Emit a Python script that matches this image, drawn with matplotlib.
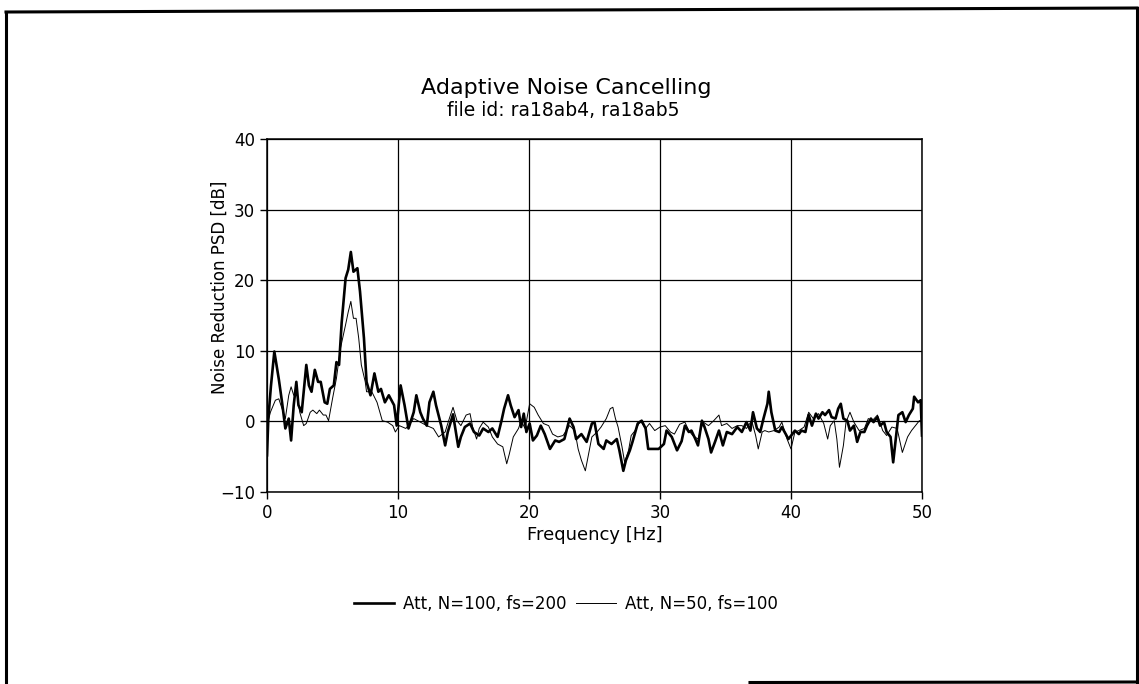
import matplotlib
matplotlib.use("Agg")
import matplotlib.pyplot as plt
from matplotlib.lines import Line2D

# Att, N=100, fs=200 (thick line)
freq_n100 = [0.0, 0.1, 0.3, 0.56, 0.9, 1.15, 1.4, 1.66, 1.84, 2.04, 2.24, 2.4, 2.65,
             3.0, 3.2, 3.4, 3.65, 3.9, 4.1, 4.4, 4.6, 4.8, 5.1, 5.3, 5.5, 5.7, 6.0,
             6.2, 6.4, 6.6, 6.9, 7.1, 7.4, 7.6, 7.9, 8.2, 8.5, 8.7, 9.0, 9.3, 9.7,
             9.9, 10.2, 10.5, 10.8, 11.2, 11.4, 11.7, 11.9, 12.2, 12.4, 12.7, 12.9,
             13.3, 13.6, 13.8, 14.2, 14.6, 14.8, 15.1, 15.5, 15.8, 16.2, 16.5, 16.9,
             17.2, 17.6, 17.9, 18.1, 18.4, 18.6, 18.9, 19.2, 19.4, 19.6, 19.8, 20.05,
             20.3, 20.6, 20.9, 21.2, 21.6, 22.0, 22.3, 22.7, 23.1, 23.4, 23.6, 24.0,
             24.4, 24.8, 25.0, 25.3, 25.7, 25.9, 26.3, 26.7, 26.9, 27.2, 27.4, 27.7,
             27.9, 28.3, 28.6, 28.9, 29.1, 29.5, 29.9, 30.3, 30.5, 30.9, 31.3, 31.65,
             31.9, 32.2, 32.4, 32.7, 32.9, 33.2, 33.4, 33.7, 33.9, 34.2, 34.5, 34.8,
             35.1, 35.5, 35.9, 36.25, 36.6, 36.9, 37.1, 37.4, 37.65, 37.9, 38.2, 38.3,
             38.5, 38.8, 39.1, 39.3, 39.6, 39.8, 40.1, 40.3, 40.6, 40.8, 41.1, 41.35,
             41.6, 41.9, 42.1, 42.4, 42.6, 42.9, 43.1, 43.4, 43.6, 43.8, 44.0, 44.3,
             44.5, 44.8, 45.05, 45.3, 45.6, 45.8, 46.1, 46.3, 46.6, 46.8, 47.1, 47.3,
             47.6, 47.8, 48.0, 48.2, 48.5, 48.75, 49.0, 49.3, 49.4, 49.7, 49.9, 50.0]
psd_n100 = [-4.8, 0.4, 5.0, 9.9, 6.0, 2.7, -1.0, 0.4, -2.7, 2.3, 5.6, 2.3, 1.3,
            8.0, 5.1, 4.2, 7.3, 5.6, 5.6, 2.7, 2.5, 4.6, 5.1, 8.4, 8.0, 14.0, 20.3,
            21.5, 24.0, 21.2, 21.7, 18.4, 11.8, 5.6, 3.7, 6.8, 4.2, 4.6, 2.7, 3.7, 2.3,
            -0.6, 5.1, 2.3, -1.0, 1.3, 3.7, 1.3, 0.4, -0.6, 2.7, 4.2, 2.3,
            -0.6, -3.4, -1.5, 1.0, -3.6, -2.2, -0.8, -0.3, -1.5, -2.0, -1.0, -1.5,
            -1.0, -2.2, 0.1, 1.8, 3.7, 2.3, 0.6, 1.6, -0.8, 1.1, -1.5, -0.3,
            -2.7, -2.0, -0.6, -1.8, -3.9, -2.7, -2.9, -2.5, 0.4, -0.8, -2.5, -1.8,
            -2.9, -0.3, -0.1, -3.2, -3.9, -2.7, -3.2, -2.5, -4.1, -7.0, -5.5, -4.1,
            -2.9, -0.3, 0.1, -1.0, -3.9, -3.9, -3.9, -3.2, -1.3, -2.2, -4.1, -2.8,
            -0.6, -1.5, -1.3, -2.5, -3.4, 0.1, -0.8, -2.5, -4.4, -2.9, -1.3, -3.4,
            -1.5, -1.8, -0.8, -1.5, -0.1, -1.3, 1.3, -1.0, -1.5, 0.4, 2.5, 4.2,
            1.3, -1.3, -1.5, -0.8, -1.8, -2.5, -1.8, -1.3, -1.8, -1.3, -1.5, 0.9,
            -0.6, 1.1, 0.4, 1.3, 0.9, 1.6, 0.6, 0.4, 1.8, 2.5, 0.4, 0.1,
            -1.3, -0.6, -2.9, -1.5, -1.5, -0.6, 0.4, -0.1, 0.6, -0.6, -0.1, -1.5,
            -2.2, -5.8, -2.5, 0.9, 1.3, -0.1, 0.9, 1.8, 3.5, 2.7, 3.0, -2.0]

# Att, N=50, fs=100 (thin line)
freq_n50 = [0.0, 0.26, 0.64, 0.9, 1.15, 1.4, 1.66, 1.84, 2.04, 2.3, 2.5, 2.8, 3.0,
            3.3, 3.5, 3.8, 4.0, 4.3, 4.5, 4.7, 5.0, 5.3, 5.6, 6.0, 6.2, 6.4, 6.6,
            6.8, 7.0, 7.2, 7.5, 7.6, 8.0, 8.4, 8.8, 9.2, 9.6, 9.8, 10.1, 10.6, 11.2,
            11.7, 12.2, 12.7, 13.1, 13.6, 13.9, 14.2, 14.5, 14.8, 15.2, 15.5, 15.7,
            16.0, 16.2, 16.5, 16.9, 17.2, 17.6, 18.0, 18.3, 18.5, 18.8, 19.2, 19.4,
            19.7, 20.05, 20.4, 20.7, 21.1, 21.5, 21.8, 22.2, 22.6, 23.1, 23.5, 23.75,
            24.0, 24.3, 24.5, 24.8, 25.2, 25.5, 25.9, 26.2, 26.4, 26.6, 26.8, 27.1,
            27.3, 27.6, 27.8, 28.1, 28.5, 28.9, 29.2, 29.6, 30.0, 30.4, 30.8, 31.1,
            31.5, 31.9, 32.2, 32.5, 32.9, 33.3, 33.7, 34.1, 34.5, 34.7, 35.1, 35.5,
            35.9, 36.25, 36.6, 37.0, 37.3, 37.5, 37.8, 38.0, 38.3, 38.7, 39.1, 39.3,
            39.7, 40.0, 40.3, 40.6, 41.0, 41.35, 41.7, 42.1, 42.5, 42.8, 43.0, 43.3,
            43.5, 43.7, 44.0, 44.2, 44.5, 44.8, 45.2, 45.6, 45.9, 46.2, 46.6, 47.0,
            47.3, 47.7, 48.1, 48.5, 48.9, 49.2, 49.5, 49.8, 50.0]
psd_n50 = [-0.6, 1.3, 3.0, 3.2, 1.8, 0.4, 3.7, 4.9, 3.7, 3.7, 1.3, -0.6, -0.3,
           1.3, 1.6, 1.1, 1.6, 0.9, 0.9, 0.1, 3.2, 6.1, 10.3, 13.7, 15.5, 17.0, 14.6,
           14.6, 11.8, 8.0, 5.6, 4.2, 4.2, 2.7, 0.1, -0.1, -0.6, -1.5, -0.6, -1.0, 0.4,
           -0.1, -0.6, -1.0, -2.2, -1.5, 0.3, 2.0, 0.1, -0.6, 0.9, 1.1, -0.8,
           -2.5, -1.0, -0.1, -0.8, -2.2, -3.2, -3.6, -6.0, -4.6, -2.2, -1.0, 0.1,
           -1.0, 2.5, 2.0, 0.9, -0.3, -0.6, -1.8, -2.2, -2.0, -0.6, -1.3, -3.9,
           -5.5, -7.0, -5.1, -2.2, -1.5, -0.8, 0.4, 1.8, 2.0, 0.4, -0.8, -3.6,
           -5.8, -4.1, -2.0, -1.3, 0.1, -1.0, -0.3, -1.3, -0.8, -0.6, -1.5, -1.8,
           -0.4, -0.1, -1.3, -2.0, -2.5, -0.1, -0.6, 0.1, 0.9, -0.6, -0.3, -1.0,
           -0.6, -0.6, -1.0, 0.1, -2.0, -3.9, -1.5, -1.3, -1.5, -1.3, -0.8, -0.1,
           -2.5, -3.9, -1.5, -1.3, -0.8, 1.3, 0.4, 1.1, -0.3, -2.5, -0.6, 0.1,
           -2.5, -6.5, -3.4, -0.1, 1.3, -0.1, -1.3, -1.0, 0.4, 0.1, 0.9, -1.3,
           -2.0, -0.8, -1.0, -4.4, -2.2, -1.3, -0.6, 0.1, 0.1]

x_ticks = [0, 10, 20, 30, 40, 50]
y_ticks = [-10, 0, 10, 20, 30, 40]

plt.rcParams["font.family"] = "DejaVu Sans"

fig = plt.figure(figsize=(11.39, 6.84), dpi=100)
ax = fig.add_axes([267 / 1139, 1 - 492 / 684, 655 / 1139, 353 / 684])

ax.plot(freq_n100, psd_n100, color="black", lw=1.9, label="Att, N=100, fs=200")
ax.plot(freq_n50, psd_n50, color="black", lw=0.7, label="Att, N=50, fs=100")

ax.set_xlim(0, 50)
ax.set_ylim(-10, 40)
ax.set_xticks(x_ticks)
ax.set_yticks(y_ticks)
ax.grid(True, color="black", lw=0.9)
ax.tick_params(direction="out", length=5, width=1, labelsize=12, colors="black")
for s in ax.spines.values():
    s.set_linewidth(1.1)

ax.set_xlabel("Frequency [Hz]", fontsize=13, labelpad=3)
ax.set_ylabel("Noise Reduction PSD [dB]", fontsize=12)
ax.yaxis.set_label_coords(-0.058, 0.58)

fig.text(566 / 1139, 1 - 88 / 684, "Adaptive Noise Cancelling", ha="center",
         va="center", fontsize=16)
fig.text(563 / 1139, 1 - 110 / 684, "file id: ra18ab4, ra18ab5", ha="center",
         va="center", fontsize=13.5)

fig.legend(loc="center", bbox_to_anchor=(566 / 1139, 1 - 604 / 684), ncol=2,
           frameon=False, fontsize=12, handlelength=2.4, columnspacing=0.6,
           handletextpad=0.5)

# page border
border = dict(color="black", lw=2.2, transform=fig.transFigure)
fig.add_artist(Line2D([6 / 1139, 6 / 1139], [0, 1 - 12 / 684], **border))
fig.add_artist(Line2D([6 / 1139, 1137 / 1139], [1 - 12 / 684, 1 - 8 / 684], **border))
fig.add_artist(Line2D([1137 / 1139, 1137 / 1139], [1 - 8 / 684, 0], **border))
fig.add_artist(Line2D([750 / 1139, 1137 / 1139], [1.5 / 684, 2 / 684], **border))

fig.savefig("out.png", dpi=100)
